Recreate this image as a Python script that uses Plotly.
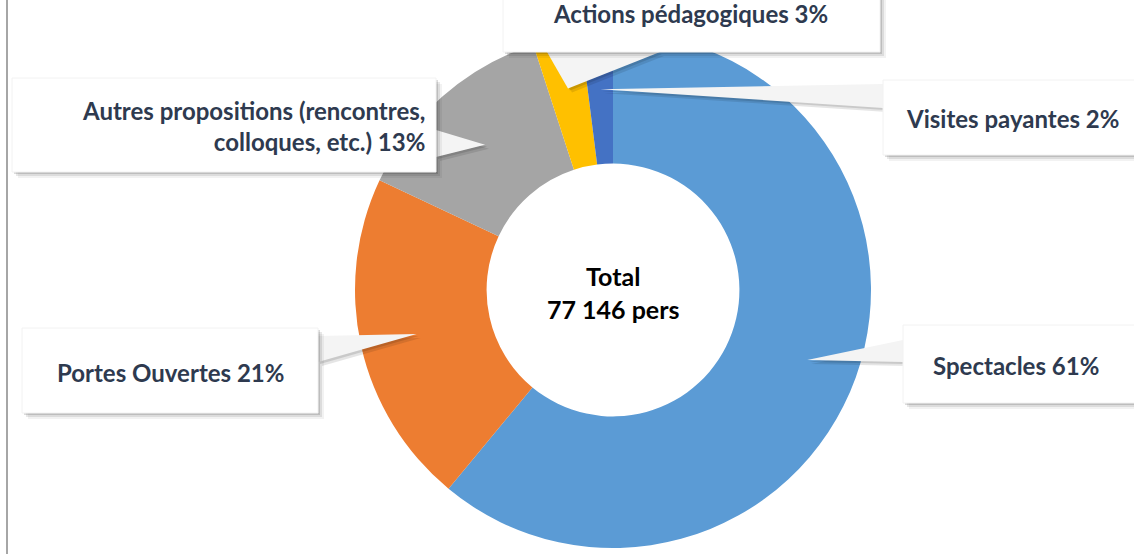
import math
import plotly.graph_objects as go

# data
categories = ["Spectacles", "Portes Ouvertes", "Autres propositions (rencontres,<br>colloques, etc.)",
              "Actions pédagogiques", "Visites payantes"]
shares = [61, 21, 13, 3, 2]
colors = ["#5B9BD5", "#ED7D31", "#A5A5A5", "#FFC000", "#4472C4"]
total_text = "Total<br>77 146 pers"

W, H = 1134, 554
CX, CY, R = 613, 290, 258
FONT = "Lato"
TXT = "#2E3A4F"


def px(x):
    return x / W


def py(y):
    return 1 - y / H


fig = go.Figure()
fig.add_trace(go.Pie(
    labels=categories, values=shares, marker=dict(colors=colors, line=dict(width=0)),
    hole=0.49, sort=False, direction="clockwise", rotation=0,
    textinfo="none", hoverinfo="label+percent", showlegend=False,
    domain=dict(x=[px(CX - R), px(CX + R)], y=[py(CY + R), py(CY - R)]),
))

# label boxes (pixel geometry): x0, y0, x1, y1, text x, text y, anchor, pointer base, tip radius
boxes = [
    (903, 325, 1145, 403, 1016, 365, "center", [(903, 340), (903, 362)], 0.80),
    (22, 328, 318, 413, 170, 372, "center", [(318, 336), (318, 362)], 0.78),
    (12, 78, 436, 172, 426, 126, "right", [(436, 130), (436, 157)], 0.75),
    (503, -30, 880, 52, 690, 13, "center", [(547, 52), (660, 52)], 0.80),
    (883, 80, 1145, 155, 1012, 118, "center", [(883, 84), (883, 108)], 0.78),
]

shapes = []
annotations = []
tot = sum(shares)
cum = 0
for i, (cat, v) in enumerate(zip(categories, shares)):
    mid = (cum + v / 2) / tot * 2 * math.pi
    cum += v
    x0, y0, x1, y1, lx, ly, anchor, base, rf = boxes[i]
    tx = CX + rf * R * math.sin(mid)
    ty = CY - rf * R * math.cos(mid)
    # pointer wedge with shadow
    for off, col in [(4, "rgba(0,0,0,0.10)"), (2, "rgba(0,0,0,0.12)"), (0, "#F4F4F4")]:
        pts = [(base[0][0] + off, base[0][1] + off), (tx + off, ty + off), (base[1][0] + off, base[1][1] + off)]
        path = "M " + " L ".join(f"{px(a)},{py(b)}" for a, b in pts) + " Z"
        shapes.append(dict(type="path", path=path, xref="paper", yref="paper",
                           fillcolor=col, line=dict(width=0), layer="above"))
    # box shadow + box
    for off, col in [(6, "rgba(0,0,0,0.05)"), (4, "rgba(0,0,0,0.09)"), (2, "rgba(0,0,0,0.14)")]:
        shapes.append(dict(type="rect", xref="paper", yref="paper",
                           x0=px(x0 + off), x1=px(x1 + off), y0=py(y0 + off), y1=py(y1 + off),
                           fillcolor=col, line=dict(width=0), layer="above"))
    shapes.append(dict(type="rect", xref="paper", yref="paper",
                       x0=px(x0), x1=px(x1), y0=py(y0), y1=py(y1),
                       fillcolor="white", line=dict(color="#F2F2F2", width=1), layer="above"))
    annotations.append(dict(
        text=f"<b>{cat} {v}%</b>", x=px(lx), y=py(ly), xref="paper", yref="paper",
        xanchor=anchor, yanchor="middle", align="right" if anchor == "right" else "center",
        showarrow=False, borderpad=0, font=dict(family=FONT, size=24, color=TXT),
    ))

annotations.append(dict(
    text=f"<b>{total_text}</b>", x=px(CX), y=py(CY + 2), xref="paper", yref="paper",
    showarrow=False, font=dict(family=FONT, size=25, color="black"),
))

# left frame line
shapes.append(dict(type="line", xref="paper", yref="paper", x0=px(7), x1=px(7), y0=0, y1=1,
                   line=dict(color="#A6A6A6", width=2)))

fig.update_layout(
    width=W, height=H, margin=dict(l=0, r=0, t=0, b=0),
    paper_bgcolor="white", plot_bgcolor="white",
    shapes=shapes, annotations=annotations,
)

fig.write_html("out.html", config={"displayModeBar": False},
               post_script="document.body.style.margin='0';")
